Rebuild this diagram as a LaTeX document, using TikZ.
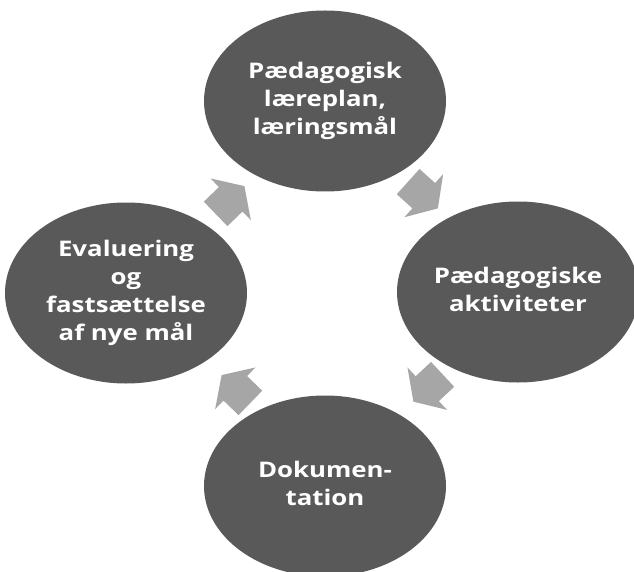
\documentclass[tikz,border=0pt]{standalone}
\usepackage{fontspec}
\setmainfont{Open Sans}
\usetikzlibrary{shapes.geometric}
\definecolor{ellfill}{HTML}{595959}
\definecolor{arrfill}{HTML}{A6A6A6}
\newcommand{\celltext}[1]{\raisebox{-4pt}{\scalebox{1.2}[1]{\fontsize{21.5}{28}\selectfont\bfseries\begin{tabular}{@{}c@{}}#1\end{tabular}}}}
\begin{document}
\begin{tikzpicture}[x=1pt,y=-1pt,
  stage/.style={ellipse, fill=ellfill, draw=none, minimum width=242pt, minimum height=181pt, inner sep=0pt, text=white},
  cyclearrow/.pic={\fill[arrfill] (-20,-17) -- (1,-17) -- (1,-29) -- (20,0) -- (1,29) -- (1,17) -- (-20,17) -- cycle;}]
\useasboundingbox (0,0) rectangle (634,572);
\clip (0,0) rectangle (634,572);
\node[stage] (plan) at (325,101) {\celltext{Pædagogisk\\læreplan,\\læringsmål}};
\node[stage] (akt) at (518,292) {\celltext{Pædagogiske\\aktiviteter}};
\node[stage] (dok) at (325,486) {\celltext{Dokumen-\\tation}};
\node[stage] (eval) at (126,293) {\celltext{Evaluering\\og\\fastsættelse\\af nye mål}};
\pic[rotate=44] at (230,200) {cyclearrow};
\pic[rotate=-42] at (423,195) {cyclearrow};
\pic[rotate=-137] at (428,388) {cyclearrow};
\pic[rotate=136] at (236,389) {cyclearrow};
\end{tikzpicture}
\end{document}
